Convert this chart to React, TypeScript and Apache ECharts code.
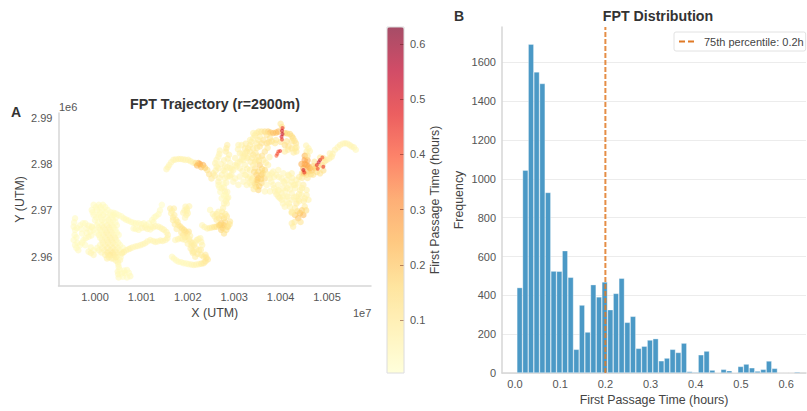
import React, { useEffect, useRef } from "react";
import * as echarts from "echarts";

// Trajectory samples: [east offset (100 m from x=1.000e7), north offset (100 m from y=2.96e6), FPT hours]
const southTail = [[51,-45,.04],[49,-32,.04],[58,-36,.03],[69,-29,.03],[76,-42,.04],[69,-45,.03],[64,-35,.04],[51,-22,.04],[49,-11,.05],[54,-7,.05],[46,0,.07],[36,-4,.07],[29,4,.07],[50,-38,.04],[53,-28,.03],[50,-16,.04],[63,-30,.03],[73,-35,.03],[60,-43,.03],[45,-8,.05]];
const westBlob = [[-3,112,.03],[8,112,.03],[17,112,.03],[-7,101,.03],[4,101,.03],[15,101,.03],[27,101,.03],[-3,90,.03],[8,90,.03],[18,90,.04],[33,90,.03],[40,90,.03],[0,79,.03],[15,79,.04],[29,79,.04],[39,79,.03],[4,68,.03],[15,68,.04],[26,68,.05],[36,68,.04],[47,68,.03],[-3,58,.03],[11,58,.04],[22,58,.05],[33,58,.05],[44,58,.03],[8,47,.04],[18,47,.05],[29,47,.06],[40,47,.05],[51,47,.03],[15,36,.05],[26,36,.06],[36,36,.06],[46,36,.05],[11,25,.04],[22,25,.05],[33,25,.05],[44,25,.05],[54,25,.03],[-3,14,.03],[8,14,.04],[20,14,.06],[33,14,.07],[44,14,.07],[54,14,.04],[22,4,.07],[33,4,.09],[40,4,.09],[49,4,.06],[26,-4,.07],[40,-4,.06]];
const westBlobFill = [[2,107,.03],[12,107,.03],[22,107,.03],[-5,96,.03],[10,96,.03],[22,96,.03],[34,96,.03],[3,85,.03],[13,85,.03],[26,85,.04],[37,85,.03],[45,85,.03],[7,74,.03],[20,74,.04],[33,74,.04],[44,74,.03],[-6,63,.03],[8,63,.04],[18,63,.05],[30,63,.05],[40,63,.04],[3,52,.03],[14,52,.04],[25,52,.06],[36,52,.05],[47,52,.03],[11,41,.04],[22,41,.05],[33,41,.06],[43,41,.05],[17,30,.05],[28,30,.06],[39,30,.06],[50,30,.04],[5,19,.04],[16,19,.05],[27,19,.07],[38,19,.07],[49,19,.05],[60,19,.03],[14,9,.05],[27,9,.08],[38,9,.09],[46,9,.07],[58,9,.04],[30,-1,.07],[45,-1,.07],[55,-1,.04]];
const westLoop = [[-43,83,.03],[-46,65,.03],[-43,58,.03],[-32,68,.03],[-21,72,.03],[-18,61,.04],[-7,65,.04],[-46,36,.03],[-43,25,.03],[-36,14,.04],[-32,25,.03],[-25,36,.03],[-21,25,.03],[-14,43,.04],[-10,54,.04],[-14,11,.04],[-3,4,.05],[-44,47,.03],[-28,50,.03],[-45,74,.03],[-39,62,.03],[-38,30,.03],[-40,19,.03],[-28,30,.03],[-30,60,.03],[-26,72,.03],[-14,67,.04],[-18,52,.04],[-20,40,.04],[-8,46,.04],[-9,20,.04],[-9,8,.05],[-40,42,.03]];
const midBridge = [[40,95,.03],[51,90,.03],[62,83,.04],[72,78,.04],[83,73,.03],[94,72,.04],[105,72,.04],[116,72,.03],[123,79,.03],[128,85,.03],[137,92,.03],[144,112,.02],[83,61,.04],[94,58,.04],[108,63,.05],[119,59,.04],[130,66,.05],[141,63,.05],[149,58,.05],[157,47,.06],[152,36,.05],[141,35,.06],[130,32,.05],[119,36,.05],[108,29,.05],[98,25,.05],[87,22,.05],[76,18,.05],[67,14,.06],[58,7,.07],[45,93,.03],[57,87,.03],[67,80,.04],[78,75,.04],[88,72,.04],[100,70,.04],[110,68,.04],[121,65,.04],[126,75,.04],[132,88,.03],[140,100,.03],[88,60,.04],[101,62,.05],[113,60,.05],[125,63,.05],[136,65,.05],[145,60,.05],[154,53,.06],[156,40,.06],[146,34,.06],[135,33,.05],[125,34,.05],[113,33,.05],[103,27,.05],[92,23,.05],[81,20,.05],[72,16,.06],[62,10,.07]];
const centralPatch = [[162,104,.08],[170,104,.08],[171,90,.08],[164,94,.07],[175,79,.1],[168,79,.08],[180,68,.11],[188,61,.13],[195,54,.13],[202,54,.12],[190,47,.1],[198,43,.08],[206,32,.08],[213,25,.08],[219,36,.06],[227,40,.05],[231,25,.06],[224,14,.08],[213,11,.08],[229,4,.09],[238,4,.1],[243,-6,.11],[234,-14,.1],[224,-16,.06],[213,-18,.05],[202,-16,.04],[191,-14,.04],[180,-11,.04],[170,-4,.04],[173,36,.05],[184,40,.06],[195,36,.06],[206,18,.08],[216,0,.08],[195,108,.06],[203,109,.06],[198,99,.06],[190,95,.06],[197,90,.06],[166,99,.07],[168,85,.08],[172,70,.09],[178,75,.1],[184,65,.12],[192,58,.13],[199,50,.12],[194,42,.09],[203,38,.08],[210,29,.08],[216,31,.07],[223,38,.06],[229,32,.06],[228,15,.08],[218,18,.08],[208,24,.08],[234,0,.1],[240,-2,.11],[238,-10,.11],[229,-15,.09],[218,-17,.06],[208,-17,.05],[197,-15,.04],[186,-12,.04],[175,-8,.04],[166,0,.04],[179,38,.06],[189,38,.07],[200,28,.07],[211,8,.08],[221,6,.09],[198,104,.06],[193,100,.06],[200,94,.06],[194,84,.05],[176,60,.08],[186,52,.1],[205,45,.07],[210,12,.08]];
const centralRise = [[231,68,.05],[242,61,.07],[252,63,.09],[262,65,.13],[272,72,.19],[278,68,.2],[272,58,.17],[278,50,.13],[285,65,.14],[267,83,.11],[278,83,.13],[274,97,.08],[278,115,.05],[285,126,.04],[285,140,.05],[258,87,.07],[248,101,.04],[266,97,.07],[284,87,.11],[291,76,.11],[287,65,.11],[269,69,.17],[273,126,.04],[287,128,.05],[284,115,.05],[273,148,.05],[266,155,.04],[280,141,.05],[285,173,.05],[294,177,.06],[236,64,.06],[247,62,.08],[257,64,.11],[267,68,.15],[275,62,.17],[283,58,.13],[280,74,.15],[273,88,.11],[276,105,.07],[282,120,.05],[282,134,.04],[262,80,.1],[254,92,.07],[262,92,.08],[290,70,.11],[281,92,.09],[278,132,.04],[270,140,.04],[268,150,.04],[278,150,.05],[283,160,.05],[280,170,.05],[290,175,.06],[277,158,.04]];
const northRidge = [[302,198,.06],[312,205,.07],[320,216,.07],[327,227,.08],[334,241,.08],[341,256,.07],[348,267,.08],[359,270,.11],[373,270,.18],[384,267,.22],[395,270,.24],[400,287,.11],[409,267,.18],[420,265,.16],[427,256,.13],[433,245,.11],[434,227,.09],[424,234,.11],[409,241,.14],[381,249,.11],[370,245,.14],[363,252,.12],[355,238,.11],[366,227,.12],[348,245,.09],[334,227,.09],[341,220,.11],[352,216,.11],[363,209,.09],[373,198,.07],[366,187,.16],[355,198,.18],[345,191,.12],[348,177,.18],[359,177,.18],[366,169,.15],[348,162,.16],[359,159,.16],[352,144,.17],[347,151,.16],[334,187,.07],[323,198,.06],[312,191,.06],[330,169,.06],[337,155,.06],[316,241,.06],[309,241,.06],[323,234,.08],[307,202,.06],[316,210,.07],[323,222,.08],[330,234,.09],[337,248,.08],[344,262,.08],[353,270,.09],[366,270,.14],[378,268,.2],[390,268,.22],[403,280,.12],[414,266,.16],[424,260,.14],[430,250,.12],[434,236,.1],[428,225,.09],[417,238,.12],[400,248,.12],[390,252,.11],[375,247,.12],[359,245,.12],[349,235,.1],[360,218,.12],[346,224,.1],[338,213,.09],[328,213,.08],[318,223,.07],[308,232,.06],[325,244,.08],[335,205,.08],[345,205,.1],[353,207,.11],[368,203,.08],[376,215,.07],[372,235,.1],[360,190,.16],[352,184,.16],[343,183,.14],[352,170,.18],[340,170,.09],[358,168,.17],[362,180,.16],[372,178,.06],[344,158,.13],[354,152,.17],[349,166,.18],[328,190,.07],[318,185,.06],[305,195,.06],[325,176,.06],[333,160,.06],[342,146,.09]];
const northFill = [[280,184,.05],[291,202,.05],[302,213,.06],[312,223,.07],[320,209,.06],[330,216,.07],[341,234,.09],[352,252,.09],[291,173,.05],[302,169,.05],[312,173,.05],[323,177,.05],[334,173,.06],[320,162,.05],[309,155,.05],[298,162,.05],[341,198,.08],[348,209,.09],[338,166,.07],[327,155,.05],[334,252,.07],[341,267,.07],[355,259,.09],[370,263,.12],[377,256,.12],[388,245,.11],[413,249,.12],[424,249,.11],[416,231,.1],[409,227,.09],[431,234,.09]];
const westArm = [[154,189,.05],[160,198,.05],[169,209,.06],[180,211,.06],[190,210,.06],[201,209,.06],[212,203,.07],[223,202,.24],[226,200,.26],[233,198,.24],[242,187,.13],[251,169,.1],[255,180,.08],[266,191,.07],[259,202,.06],[266,216,.05],[269,229,.05],[285,241,.08],[282,227,.08],[289,220,.07],[280,195,.06],[291,191,.06],[298,187,.06],[273,177,.06],[266,162,.06],[157,193,.05],[164,204,.05],[174,210,.06],[185,211,.06],[195,209,.06],[206,206,.07],[217,202,.12],[229,193,.2],[237,192,.18],[246,178,.12],[260,186,.07],[262,195,.06],[262,209,.05],[268,222,.05],[283,234,.08],[286,212,.07],[278,208,.06],[272,200,.06],[285,193,.06],[294,189,.06],[277,186,.06],[268,170,.06],[258,175,.08],[220,197,.22]];
const eastDescent = [[377,169,.05],[384,155,.05],[388,141,.06],[395,130,.06],[402,123,.06],[409,108,.05],[381,180,.06],[391,177,.05],[402,169,.05],[413,166,.06],[414,148,.05],[406,148,.06],[402,137,.05],[424,162,.05],[434,166,.06],[431,148,.06],[424,137,.06],[434,130,.07],[424,123,.06],[442,144,.07],[449,155,.08],[456,133,.07],[460,123,.07],[452,108,.09],[442,94,.2],[431,90,.18],[438,83,.2],[427,65,.08],[449,90,.22],[434,115,.1],[420,108,.06],[380,162,.05],[386,148,.05],[391,135,.06],[398,127,.06],[405,115,.05],[376,176,.05],[386,172,.05],[396,172,.05],[408,160,.05],[418,155,.05],[410,142,.05],[396,142,.05],[428,155,.06],[438,158,.06],[420,145,.05],[429,128,.06],[440,135,.07],[446,148,.07],[440,120,.07],[450,120,.08],[446,100,.18],[436,98,.16],[424,95,.1],[443,75,.12],[430,75,.1],[424,72,.08],[455,100,.14],[415,130,.05],[405,130,.05],[418,115,.06],[425,170,.06],[418,175,.05],[440,172,.08],[446,180,.12]];
const eastFill = [[370,155,.05],[377,141,.05],[366,141,.05],[384,184,.05],[395,187,.05],[406,180,.05],[416,177,.05],[424,180,.06],[406,162,.05],[395,155,.05],[395,144,.05],[413,130,.05],[413,119,.05],[431,155,.06],[445,133,.07],[452,126,.07],[438,123,.07],[456,144,.07],[431,105,.08],[424,97,.09]];
const eastArm = [[456,227,.07],[460,234,.06],[456,198,.26],[449,191,.24],[460,184,.22],[463,191,.24],[474,191,.17],[492,213,.09],[499,209,.08],[490,198,.16],[506,223,.06],[517,231,.05],[528,241,.05],[539,245,.05],[549,241,.05],[558,236,.05],[562,231,.04],[510,216,.07],[470,177,.12],[456,177,.14],[452,209,.28],[445,200,.25],[452,218,.24],[452,200,.27],[458,208,.26],[450,180,.2],[460,195,.26],[467,186,.2],[470,195,.18],[480,195,.16],[478,183,.14],[473,205,.12],[485,214,.1],[495,206,.1],[505,212,.07],[512,222,.06],[523,236,.05],[534,244,.05],[544,244,.05],[553,238,.05],[458,218,.12],[455,240,.06],[463,228,.06],[446,170,.1],[458,170,.1],[465,178,.13],[492,186,.14],[485,180,.12]];
const hotSpots = [[404,278,.46],[403,272,.52],[404,265,.55],[402,259,.5],[403,253,.44],[395,227,.4],[391,218,.38],[399,228,.44],[393,222,.42],[449,187,.52],[451,182,.46],[478,198,.48],[482,204,.52],[485,209,.5],[480,190,.42],[490,214,.42],[492,194,.46]];
const trajectory = [...southTail, ...westBlob, ...westBlobFill, ...westLoop, ...midBridge, ...centralPatch, ...centralRise, ...northRidge, ...northFill, ...westArm, ...eastDescent, ...eastFill, ...eastArm, ...hotSpots];

const xTicks = [10000000, 10010000, 10020000, 10030000, 10040000, 10050000];
const yTicks = [2960000, 2970000, 2980000, 2990000];
const fptTicks = [0.1, 0.2, 0.3, 0.4, 0.5, 0.6];

const binCenters = [.0103,.0229,.0354,.0479,.0605,.0730,.0855,.0981,.1106,.1232,.1357,.1482,.1608,.1733,.1859,.1984,.2109,.2235,.2360,.2486,.2611,.2736,.2862,.2987,.3112,.3238,.3363,.3489,.3614,.3739,.3865,.3990,.4116,.4241,.4366,.4492,.4617,.4742,.4868,.4993,.5119,.5244,.5369,.5495,.5620,.5746,.5871,.5996,.6122,.6247];
const frequencies = [440,1045,1694,1551,1491,930,525,524,630,493,122,350,211,455,392,469,326,410,488,261,292,127,138,170,177,63,77,122,106,154,8,5,94,113,15,3,19,12,3,34,46,27,10,19,62,24,0,0,0,6];
const histXTicks = [0, 0.1, 0.2, 0.3, 0.4, 0.5, 0.6];
const histYTicks = [0, 200, 400, 600, 800, 1000, 1200, 1400, 1600];
const percentile75 = 0.2;
const legendName = "75th percentile: 0.2h";

const FONT = "Liberation Sans";
const SPINE = "#d6d6d6";
const TICK = "#555555";
const LABEL = "#444444";
const TITLE = "#333333";
const ylOrRd = ["rgba(255,255,204,.7)","rgba(255,237,160,.7)","rgba(254,217,118,.7)","rgba(254,178,76,.7)","rgba(253,141,60,.7)","rgba(252,78,42,.7)","rgba(227,26,28,.7)","rgba(189,0,38,.7)","rgba(128,0,38,.7)"];

export default function App() {
  const ref = useRef<HTMLDivElement>(null);
  useEffect(() => {
    const chart = echarts.init(ref.current!, undefined, { renderer: "svg" });
    const tickLabel = { color: TICK, fontFamily: FONT, fontSize: 11 };
    const axisName = { color: LABEL, fontFamily: FONT, fontSize: 12.4 };
    const spine = { show: true, lineStyle: { color: SPINE, width: 1.5 } };
    const titleStyle = { color: TITLE, fontFamily: FONT, fontSize: 14.2, fontWeight: "bold" as const };
    chart.setOption({
      animation: false,
      title: [
        { text: "FPT Trajectory (r=2900m)", left: 215, top: 97, textAlign: "center", padding: 0, textStyle: titleStyle },
        { text: "FPT Distribution", left: 658, top: 9, textAlign: "center", padding: 0, textStyle: titleStyle },
      ],
      grid: [
        { left: 58.5, top: 113, width: 312.5, height: 172.7 },
        { left: 502, top: 27, width: 304, height: 346 },
        { left: 387, top: 27, width: 17, height: 346 },
      ],
      xAxis: [
        {
          gridIndex: 0, type: "value", min: 9992134, max: 10059478, name: "X (UTM)", nameLocation: "middle", nameGap: 21,
          nameTextStyle: axisName, axisLine: spine, axisTick: { show: false, customValues: xTicks }, splitLine: { show: false },
          axisLabel: { ...tickLabel, margin: 6, customValues: xTicks, formatter: (v: number) => (v / 1e7).toFixed(3) },
        },
        {
          gridIndex: 1, type: "value", min: -0.0288, max: 0.644, name: "First Passage Time (hours)", nameLocation: "middle", nameGap: 20,
          nameTextStyle: axisName, axisLine: spine, axisTick: { show: false, customValues: histXTicks }, splitLine: { show: false },
          axisLabel: { ...tickLabel, margin: 5, customValues: histXTicks, formatter: (v: number) => v.toFixed(1) },
        },
        { gridIndex: 2, type: "value", min: 0, max: 1, show: false },
      ],
      yAxis: [
        {
          gridIndex: 0, type: "value", min: 2953739, max: 2991025, name: "Y (UTM)", nameLocation: "middle", nameGap: 33,
          nameTextStyle: axisName, axisLine: spine, axisTick: { show: false, customValues: yTicks }, splitLine: { show: false },
          axisLabel: { ...tickLabel, margin: 6, customValues: yTicks, formatter: (v: number) => (v / 1e6).toFixed(2) },
        },
        {
          gridIndex: 1, type: "value", min: 0, max: 1782, name: "Frequency", nameLocation: "middle", nameGap: 37,
          nameTextStyle: axisName, axisLine: { ...spine, onZero: false }, axisTick: { show: false, customValues: histYTicks },
          splitLine: { show: true, lineStyle: { color: "#ececec", width: 1 } },
          axisLabel: { ...tickLabel, margin: 6, customValues: histYTicks, formatter: (v: number) => String(v) },
        },
        {
          gridIndex: 2, type: "value", position: "right", min: 0.004, max: 0.631, name: "First Passage Time (hours)",
          nameLocation: "middle", nameGap: 25, nameRotate: 90, nameTextStyle: axisName, z: 10,
          axisLine: { show: false, onZero: false }, splitLine: { show: false },
          axisTick: { show: true, inside: true, length: 4, customValues: fptTicks, lineStyle: { color: "rgba(90,20,20,.45)", width: 1 } },
          axisLabel: { ...tickLabel, margin: 6, customValues: fptTicks, formatter: (v: number) => v.toFixed(1) },
        },
      ],
      visualMap: {
        type: "continuous", seriesIndex: 0, dimension: 2, min: 0.004, max: 0.631, left: 387, top: 27, itemWidth: 17, itemHeight: 346,
        padding: 0, calculable: false, text: null, z: 1, inRange: { color: ylOrRd }, outOfRange: { color: "#ffffff" }, hoverLink: false,
      },
      legend: {
        data: [{ name: legendName, icon: "path://M0 0H6V2H0Z M9 0H15V2H9Z" }], left: 674, top: 32, padding: [4, 2, 4, 5], itemWidth: 15, itemHeight: 2, itemGap: 0,
        backgroundColor: "#fff", borderColor: "#e2e2e2", borderWidth: 1, borderRadius: 2, selectedMode: false,
        textStyle: { color: LABEL, fontFamily: FONT, fontSize: 11, padding: [0, 0, 0, 5] },
      },
      series: [
        {
          type: "scatter", xAxisIndex: 0, yAxisIndex: 0, silent: true,
          symbolSize: (v: number[]) => (v[2] >= 0.38 ? 4 : 6.5),
          data: trajectory.map(([e, n, f]) => [1e7 + e * 100, 2.96e6 + n * 100, f]),
        },
        {
          type: "bar", xAxisIndex: 1, yAxisIndex: 1, barWidth: 5.67, silent: true,
          itemStyle: { color: "#4b99c6", borderColor: "rgba(255,255,255,.55)", borderWidth: 0.6 },
          data: binCenters.map((c, i) => [c, frequencies[i]]),
        },
        {
          type: "line", name: legendName, xAxisIndex: 1, yAxisIndex: 1, symbol: "none", silent: true, z: 5,
          lineStyle: { color: "#e07a26", width: 2, type: [5, 2], opacity: 0.85 }, itemStyle: { color: "#e07a26" },
          data: [[percentile75, 0], [percentile75, 1782]],
        },
      ],
      graphic: [
        { type: "text", x: 11, y: 105, style: { text: "A", fill: TITLE, font: `bold 14px "${FONT}"` } },
        { type: "text", x: 454, y: 9, style: { text: "B", fill: TITLE, font: `bold 14px "${FONT}"` } },
        { type: "text", x: 59, y: 101, style: { text: "1e6", fill: TICK, font: `11px "${FONT}"` } },
        { type: "text", x: 353, y: 307, style: { text: "1e7", fill: TICK, font: `11px "${FONT}"` } },
        { type: "rect", z: 20, shape: { x: 387, y: 27, width: 17, height: 346 }, style: { fill: "none", stroke: "#dcdcdc", lineWidth: 1 } },
      ],
    });
    return () => chart.dispose();
  }, []);
  return <div ref={ref} style={{ position: "absolute", left: 0, top: 0, width: 807, height: 411 }} />;
}
